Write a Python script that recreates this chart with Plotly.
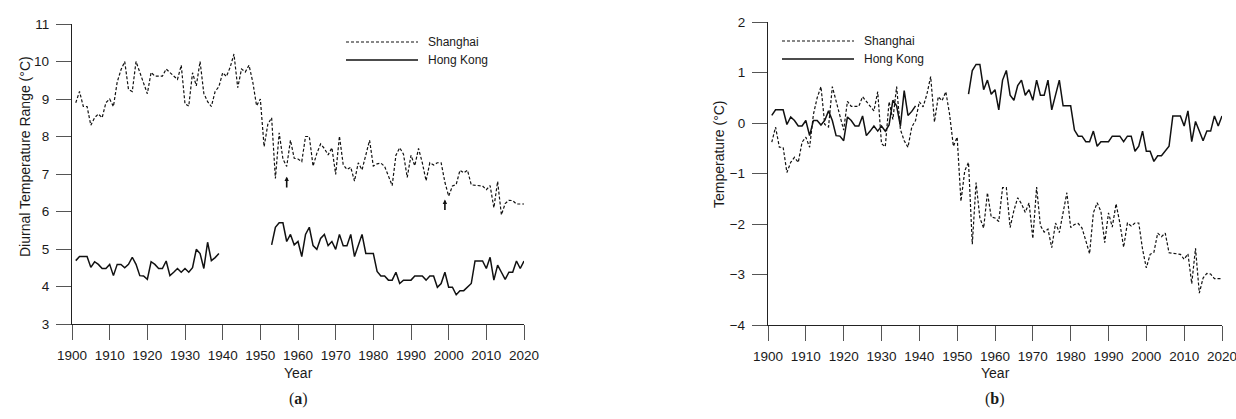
import plotly.graph_objects as go

W, H = 1236, 419

years = list(range(1901, 2021))
x_ticks = list(range(1900, 2021, 10))

# Diurnal temperature range (°C)
shanghai_dtr = [
    8.9, 9.2, 8.8, 8.8, 8.3, 8.5, 8.6, 8.5, 8.9, 9.0,
    8.8, 9.45, 9.78, 10.0, 9.25, 9.2, 10.0, 9.7, 9.42, 9.14,
    9.71, 9.61, 9.61, 9.61, 9.8, 9.71, 9.62, 9.52, 9.9, 8.87,
    8.81, 9.7, 9.35, 10.0, 9.15, 8.93, 8.8, 9.2, 9.33, 9.7,
    9.6, 9.85, 10.2, 9.3, 9.8, 9.72, 9.9, 9.45, 8.82, 9.0,
    7.73, 8.33, 8.5, 6.88, 8.1, 7.4, 7.2, 7.9, 7.42, 7.4,
    7.33, 8.0, 8.0, 7.21, 7.55, 7.8, 7.68, 7.51, 7.7, 6.99,
    8.01, 7.25, 7.12, 7.18, 6.81, 7.3, 7.11, 7.51, 7.9, 7.21,
    7.27, 7.29, 7.2, 6.95, 6.69, 7.5, 7.7, 7.53, 6.91, 7.5,
    7.22, 7.68, 7.3, 6.82, 7.3, 7.24, 7.3, 7.3, 6.78, 6.41,
    6.68, 6.72, 7.1, 7.03, 7.1, 6.71, 6.7, 6.7, 6.68, 6.58,
    6.69, 6.1, 6.8, 5.91, 6.21, 6.3, 6.29, 6.2, 6.2, 6.2,
]

hongkong_dtr = [
    4.69, 4.8, 4.8, 4.8, 4.51, 4.66, 4.59, 4.48, 4.48, 4.59,
    4.29, 4.59, 4.59, 4.5, 4.59, 4.78, 4.59, 4.29, 4.28, 4.19,
    4.66, 4.59, 4.48, 4.48, 4.68, 4.29, 4.38, 4.48, 4.38, 4.48,
    4.38, 4.5, 4.99, 4.88, 4.48, 5.18, 4.69, 4.77, 4.88,
    None, None, None, None, None, None, None, None, None, None, None, None, None,
    5.11, 5.58, 5.7, 5.7, 5.2, 5.39, 5.11, 5.2,
    4.8, 5.39, 5.58, 5.09, 4.99, 5.28, 5.39, 5.09, 5.2, 4.99,
    5.39, 5.09, 5.09, 5.39, 4.8, 5.09, 5.39, 4.88, 4.88, 4.88,
    4.4, 4.28, 4.28, 4.17, 4.17, 4.38, 4.08, 4.17, 4.17, 4.17,
    4.28, 4.28, 4.28, 4.17, 4.28, 4.28, 3.98, 4.08, 4.38, 3.98,
    3.98, 3.78, 3.89, 3.89, 3.98, 4.08, 4.68, 4.68, 4.68, 4.48,
    4.78, 4.17, 4.57, 4.38, 4.19, 4.38, 4.38, 4.68, 4.48, 4.68,
]

# Temperature anomaly (°C)
shanghai_anom = [
    -0.38, -0.08, -0.48, -0.48, -0.98, -0.78, -0.68, -0.78, -0.38, -0.28,
    -0.48, 0.17, 0.5, 0.72, -0.03, -0.08, 0.72, 0.42, 0.14, -0.14,
    0.43, 0.33, 0.33, 0.33, 0.52, 0.43, 0.34, 0.24, 0.62, -0.41,
    -0.47, 0.42, 0.07, 0.72, -0.13, -0.35, -0.48, -0.08, 0.05, 0.42,
    0.32, 0.57, 0.92, 0.02, 0.52, 0.44, 0.62, 0.17, -0.46, -0.28,
    -1.55, -0.95, -0.78, -2.4, -1.18, -1.88, -2.08, -1.38, -1.86, -1.88,
    -1.95, -1.28, -1.28, -2.07, -1.73, -1.48, -1.6, -1.77, -1.58, -2.29,
    -1.27, -2.03, -2.16, -2.1, -2.47, -1.98, -2.17, -1.77, -1.38, -2.07,
    -2.01, -1.99, -2.08, -2.33, -2.59, -1.78, -1.58, -1.75, -2.37, -1.78,
    -2.06, -1.6, -1.98, -2.46, -1.98, -2.04, -1.98, -1.98, -2.5, -2.87,
    -2.6, -2.56, -2.18, -2.25, -2.18, -2.57, -2.58, -2.58, -2.6, -2.7,
    -2.59, -3.18, -2.48, -3.37, -3.07, -2.98, -2.99, -3.08, -3.08, -3.08,
]

hongkong_anom = [
    0.15, 0.26, 0.26, 0.26, -0.03, 0.12, 0.05, -0.06, -0.06, 0.05,
    -0.25, 0.05, 0.05, -0.04, 0.05, 0.24, 0.05, -0.25, -0.26, -0.35,
    0.12, 0.05, -0.06, -0.06, 0.14, -0.25, -0.16, -0.06, -0.16, -0.06,
    -0.16, -0.04, 0.45, 0.34, -0.06, 0.64, 0.15, 0.23, 0.34,
    None, None, None, None, None, None, None, None, None, None, None, None, None,
    0.57, 1.04, 1.16, 1.16, 0.66, 0.85, 0.57, 0.66,
    0.26, 0.85, 1.04, 0.55, 0.45, 0.74, 0.85, 0.55, 0.66, 0.45,
    0.85, 0.55, 0.55, 0.85, 0.26, 0.55, 0.85, 0.34, 0.34, 0.34,
    -0.14, -0.26, -0.26, -0.37, -0.37, -0.16, -0.46, -0.37, -0.37, -0.37,
    -0.26, -0.26, -0.26, -0.37, -0.26, -0.26, -0.56, -0.46, -0.16, -0.56,
    -0.56, -0.76, -0.65, -0.65, -0.56, -0.46, 0.14, 0.14, 0.14, -0.06,
    0.24, -0.37, 0.03, -0.16, -0.35, -0.16, -0.16, 0.14, -0.06, 0.14,
]

# Years marked with arrows on the DTR panel (tip, tail values)
arrow_marks = [(1957, 6.93, 6.6), (1999, 6.32, 6.0)]

FONT = "Liberation Sans, Arial, sans-serif"
DASH = "3px,2px"
INK = "#111111"


def px(x):
    return x / W


def py(y):
    return 1 - y / H


fig = go.Figure()

fig.add_trace(go.Scatter(x=years, y=shanghai_dtr, mode="lines", xaxis="x", yaxis="y",
                         line=dict(color=INK, width=1.2, dash=DASH), name="Shanghai"))
fig.add_trace(go.Scatter(x=years, y=hongkong_dtr, mode="lines", xaxis="x", yaxis="y",
                         line=dict(color=INK, width=1.5), name="Hong Kong"))
fig.add_trace(go.Scatter(x=years, y=shanghai_anom, mode="lines", xaxis="x2", yaxis="y2",
                         line=dict(color=INK, width=1.2, dash=DASH), name="Shanghai"))
fig.add_trace(go.Scatter(x=years, y=hongkong_anom, mode="lines", xaxis="x2", yaxis="y2",
                         line=dict(color=INK, width=1.5), name="Hong Kong"))

axis_common = dict(
    showgrid=False, zeroline=False, showline=True, linecolor="#222222", linewidth=1.3,
    ticks="outside", ticklen=15, tickwidth=1.2, tickcolor="#555555",
    tickfont=dict(family=FONT, size=13.5, color="#1a1a1a"),
    ticklabelstandoff=4, automargin=False, ticklabeloverflow="allow",
)

fig.update_layout(
    template="none",
    width=W, height=H,
    margin=dict(l=0, r=0, t=0, b=0, pad=0),
    paper_bgcolor="white", plot_bgcolor="white",
    showlegend=False,
    font=dict(family=FONT, size=13.5, color="#1a1a1a"),
    xaxis=dict(domain=[px(72), px(524)], anchor="y", range=[1900, 2020],
               tickmode="array", tickvals=x_ticks, **axis_common),
    yaxis=dict(domain=[py(324), py(24)], anchor="x", range=[3, 11],
               tickmode="linear", tick0=3, dtick=1, **axis_common),
    xaxis2=dict(domain=[px(768), px(1222)], anchor="y2", range=[1900, 2020],
                tickmode="array", tickvals=x_ticks, **axis_common),
    yaxis2=dict(domain=[py(325), py(22)], anchor="x2", range=[-4, 2],
                tickmode="linear", tick0=-4, dtick=1, **axis_common),
)

ann = []


def text(x, y, s, size=13.5, angle=0, xanchor="center", family=FONT):
    ann.append(dict(x=px(x), y=py(y), xref="paper", yref="paper", text=s, showarrow=False,
                    textangle=angle, xanchor=xanchor, yanchor="middle",
                    font=dict(family=family, size=size, color="#1a1a1a")))


# Axis titles
text(25, 157, "Diurnal Temperature Range (°C)", size=14, angle=-90)
text(719, 154, "Temperature (°C)", size=14, angle=-90)
text(298, 373, "Year", size=14)
text(995, 373, "Year", size=14)
text(298, 399, "(<b>a</b>)", size=16, family="Liberation Serif, Times New Roman, serif")
text(995, 399, "(<b>b</b>)", size=16, family="Liberation Serif, Times New Roman, serif")

# Legend entries drawn as line samples with labels
shapes = []
for (lx0, lx1, tx, y_sh, y_hk) in [(346, 418, 426, 42, 60), (782, 854, 862, 41, 59)]:
    shapes.append(dict(type="line", xref="paper", yref="paper", x0=px(lx0), x1=px(lx1),
                       y0=py(y_sh), y1=py(y_sh), line=dict(color=INK, width=1.1, dash=DASH)))
    shapes.append(dict(type="line", xref="paper", yref="paper", x0=px(lx0), x1=px(lx1),
                       y0=py(y_hk), y1=py(y_hk), line=dict(color=INK, width=1.4)))
    text(tx, y_sh, "Shanghai", size=12, xanchor="left")
    text(tx, y_hk, "Hong Kong", size=12, xanchor="left")

# Arrows marking change points
for yr, tip, tail in arrow_marks:
    ann.append(dict(x=yr, y=tip, xref="x", yref="y", ax=yr, ay=tail, axref="x", ayref="y",
                    text="", showarrow=True, arrowhead=2, arrowsize=0.55, arrowwidth=1.6,
                    arrowcolor=INK, standoff=0, startstandoff=0))

fig.update_layout(annotations=ann, shapes=shapes)

fig.write_html("out.html")
